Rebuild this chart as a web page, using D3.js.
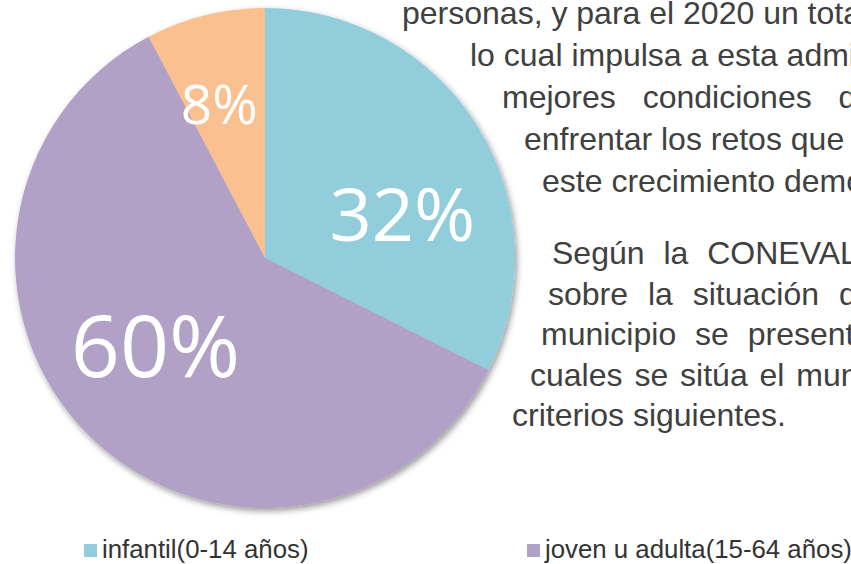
<!DOCTYPE html>
<html>
<head>
<meta charset="utf-8">
<script src="https://cdn.jsdelivr.net/npm/d3@7"></script>
<style>
  body { margin: 0; background: #fff; }
  svg { display: block; }
</style>
</head>
<body>
<div id="chart"></div>
<script>
// population by age group (percent)
const categories = ["infantil(0-14 años)", "joven u adulta(15-64 años)", "adulta mayor(65 años y más)"];
const shares = [32.4, 59.9, 7.7];
const colors = ["#92CDDC", "#B2A1C7", "#FAC090"];

// surrounding document text (cut off by the frame)
const textTop = [
    "personas, y para el 2020 un total",
    "lo cual impulsa a esta administración",
    "mejores condiciones de",
    "enfrentar los retos que",
    "este crecimiento demográfico."
];
const textBottom = [
    "Según la CONEVAL",
    "sobre la situación de",
    "municipio se presentan",
    "cuales se sitúa el municipio",
    "criterios siguientes."
];

const width = 851, height = 564;
const cx = 265, cy = 258, radius = 250;

// layout of each text line: left x and extra word spacing
const topLayout = [[402, 0], [470, 0], [502, 18], [524, 0], [542, 0]];
const bottomLayout = [[552, 10], [548, 11], [541, 10], [530, 3], [512, 0]];

// label font size and nudge from the centroid
const labelStyle = [
    { size: 74, dx: 14, dy: 31 },
    { size: 86, dx: -8, dy: -18 },
    { size: 55, dx: -11, dy: -15 }
];

const svg = d3.select("#chart").append("svg")
    .attr("width", width)
    .attr("height", height);

const defs = svg.append("defs");
const shadow = defs.append("filter")
    .attr("id", "shadow")
    .attr("x", "-10%").attr("y", "-10%")
    .attr("width", "120%").attr("height", "120%");
shadow.append("feDropShadow")
    .attr("dx", 2).attr("dy", 3)
    .attr("stdDeviation", 3)
    .attr("flood-color", "#000")
    .attr("flood-opacity", 0.4);

const pie = d3.pie().sort(null).value(d => d);
const arcs = pie(shares);

const arc = d3.arc().innerRadius(0).outerRadius(radius);
const labelArc = d3.arc().innerRadius(145).outerRadius(145);

const g = svg.append("g")
    .attr("transform", "translate(" + cx + "," + cy + ")");

g.append("g")
    .attr("filter", "url(#shadow)")
    .selectAll("path")
    .data(arcs)
    .enter()
    .append("path")
    .attr("d", arc)
    .attr("fill", (d, i) => colors[i]);

g.selectAll("text.pct")
    .data(arcs)
    .enter()
    .append("text")
    .attr("class", "pct")
    .attr("x", (d, i) => labelArc.centroid(d)[0] + labelStyle[i].dx)
    .attr("y", (d, i) => labelArc.centroid(d)[1] + labelStyle[i].dy)
    .attr("text-anchor", "middle")
    .attr("dominant-baseline", "central")
    .attr("fill", "#fff")
    .style("font-family", "'Open Sans', 'Noto Sans', sans-serif")
    .style("font-weight", 400)
    .style("font-size", (d, i) => labelStyle[i].size + "px")
    .text(d => Math.round(d.data) + "%");

// document text around the chart
function drawLines(lines, layout, y0, step) {
    svg.append("g").selectAll("text")
        .data(lines)
        .enter()
        .append("text")
        .attr("x", (d, i) => layout[i][0])
        .attr("y", (d, i) => y0 + i * step)
        .attr("word-spacing", (d, i) => layout[i][1])
        .attr("fill", "#404040")
        .style("font-family", "'Liberation Sans', Arial, sans-serif")
        .style("font-size", "32px")
        .text(d => d);
}
drawLines(textTop, topLayout, 24, 42);
drawLines(textBottom, bottomLayout, 264, 40.5);

// legend
const legendX = d3.scaleLinear().domain([0, 1]).range([84, 527]);
const legend = svg.append("g").selectAll("g")
    .data(categories)
    .enter()
    .append("g")
    .attr("transform", (d, i) => "translate(" + legendX(i) + ",544)");

legend.append("rect")
    .attr("width", 13)
    .attr("height", 13)
    .attr("fill", (d, i) => colors[i]);

legend.append("text")
    .attr("x", 18)
    .attr("y", 14)
    .attr("fill", "#333")
    .style("font-family", "'Liberation Sans', Arial, sans-serif")
    .style("font-size", "25.8px")
    .text(d => d);
</script>
</body>
</html>
